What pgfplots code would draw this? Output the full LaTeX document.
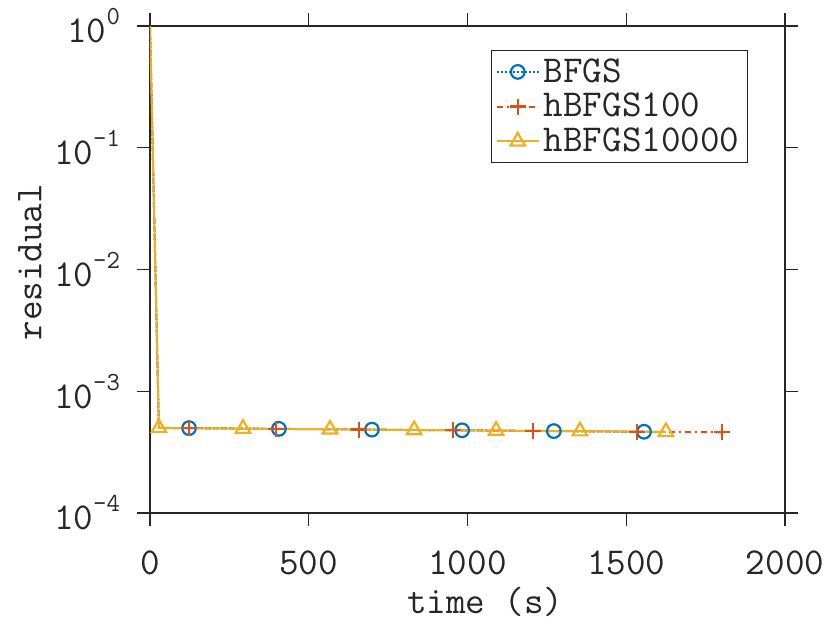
\documentclass[border=0pt]{standalone}
\usepackage{fontspec}
\usepackage{pgfplots}
\pgfplotsset{compat=1.18}
\definecolor{mblue}{RGB}{0,114,189}
\definecolor{morange}{RGB}{217,83,25}
\definecolor{myellow}{RGB}{237,177,32}
\definecolor{axgray}{RGB}{38,38,38}
\definecolor{mfill}{RGB}{255,255,225}
\newcommand{\mf}{\ttfamily\fontsize{19}{22}\selectfont\addfontfeature{LetterSpace=8}}
\newcommand{\ex}[1]{10\raisebox{1.1ex}{\ttfamily\fontsize{13}{14}\selectfont\addfontfeature{LetterSpace=6}#1}}
\begin{document}
\begin{tikzpicture}
\useasboundingbox (-75pt,-55pt) rectangle (340pt,256.5pt);
\begin{axis}[
  scale only axis, width=317.5pt, height=243.5pt,
  ymode=log, xmin=0, xmax=2000, ymin=1e-4, ymax=1,
  xtick={0,500,1000,1500,2000},
  xticklabels={0,500,1000,1500,2000},
  ytick={1e-4,1e-3,1e-2,1e-1,1},
  yticklabels={\ex{-4},\ex{-3},\ex{-2},\ex{-1},\ex{0}},
  minor ytick={}, yminorticks=false,
  tick align=outside, tick pos=both, major tick length=6.5pt,
  axis line style={axgray, line width=0.7pt},
  every tick/.style={axgray, line width=0.7pt},
  tick label style={font=\mf, text=axgray},
  xticklabel style={anchor=north, yshift=-9pt},
  yticklabel style={anchor=east, xshift=-5pt},
  label style={font=\mf, text=axgray},
  xlabel={time (s)}, ylabel={residual},
  xlabel style={at={(axis description cs:0.528,-0.182)}, anchor=center, inner sep=0pt},
  ylabel style={at={(axis description cs:-0.189,0.515)}, anchor=center},
  legend style={at={(0.942,0.951)}, anchor=north east, draw=axgray, line width=0.7pt,
    font=\mf, text=axgray, row sep=0pt, inner sep=2pt},
  legend cell align=left,
  legend image code/.code={\draw[#1, mark indices={2}] plot coordinates {(0pt,0pt) (10.5pt,0pt) (21pt,0pt)};},
  every axis plot/.append style={line width=1pt},
]
\addplot[mblue, densely dotted, mark=o, mark size=3.4pt,
  mark options={solid, fill=mfill, line width=1.1pt}, mark indices={3,4,5,6,7,8}]
  coordinates {(0,1) (28,5.0e-4) (123,4.98e-4) (406,4.91e-4) (699,4.84e-4) (983,4.78e-4) (1272,4.71e-4) (1556,4.65e-4)};
\addlegendentry{BFGS}
\addplot[morange, dash dot, mark=+, mark size=4pt,
  mark options={solid, line width=1.1pt}, mark indices={3,4,5,6,7,8,9}]
  coordinates {(0,1) (28,5.0e-4) (123,4.98e-4) (397,4.91e-4) (658,4.85e-4) (954,4.78e-4) (1206,4.73e-4) (1534,4.66e-4) (1802,4.60e-4)};
\addlegendentry{hBFGS100}
\addplot[myellow, solid, mark=triangle, mark size=4.2pt,
  mark options={solid, fill=mfill, line width=1.1pt}, mark indices={2,3,4,5,6,7,8}]
  coordinates {(0,1) (28,5.0e-4) (293,4.93e-4) (567,4.87e-4) (832,4.81e-4) (1090,4.75e-4) (1354,4.70e-4) (1625,4.64e-4)};
\addlegendentry{hBFGS10000}
\end{axis}
\end{tikzpicture}
\end{document}
